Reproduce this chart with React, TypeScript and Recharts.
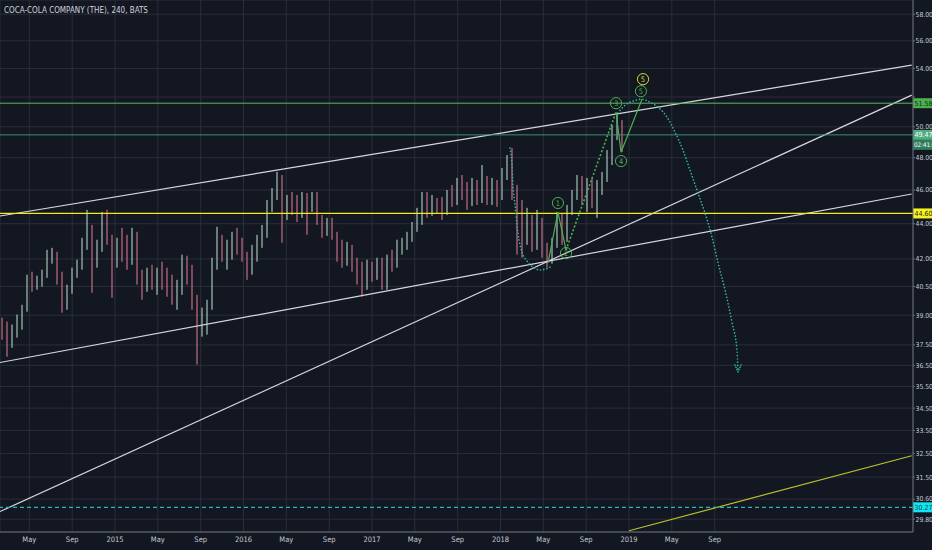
import React from "react";
import {
  ComposedChart,
  Bar,
  Line,
  XAxis,
  YAxis,
  CartesianGrid,
  ReferenceLine,
  ReferenceDot,
} from "recharts";

const BG = "#131722";
const GRID = "#2a2e39";
const AXIS = "#6b6e78";
const TEXT = "#c5c8cf";
const UP = "#bfe3d2";
const DOWN = "#e57f95";
const TEAL_DOT = "#35b5a5";
const WAVE = "#4caf50";
const WHITE_LINE = "#d6d8de";
const FONT = "'Liberation Sans Narrow', 'DejaVu Sans Condensed', sans-serif";

// time axis (decimal years), 240-min bars binned to ~2 weeks
const T0 = 2014.1206;
const STEP = 0.03891;
const X_DOMAIN = [2014.105, 2021.21];
const X_TICKS = [2014.333, 2014.667, 2015, 2015.333, 2015.667, 2016, 2016.333, 2016.667, 2017, 2017.333, 2017.667, 2018, 2018.333, 2018.667, 2019, 2019.333, 2019.667];
const X_LABELS = ["May", "Sep", "2015", "May", "Sep", "2016", "May", "Sep", "2017", "May", "Sep", "2018", "May", "Sep", "2019", "May", "Sep"];

const Y_DOMAIN = [29.3, 59.1];
const Y_TICKS = [58, 56, 54, 52, 50, 48, 46, 44, 42, 40.5, 39, 37.5, 36.5, 35.5, 34.5, 33.5, 32.5, 31.5, 30.6, 29.8];
const Y_HIDDEN = [52]; // covered by the 51.58 price tag

const FIRST_OPEN = 38.67;
const CLOSE = [
  38.01, 37.51, 38.36, 38.77, 39.28, 40.76, 40.6, 40.86, 41.14, 42.07,
  42.24, 40.97, 39.54, 40.33, 41.3, 41.68, 42.79, 43.76, 41.85, 42.62,
  44.22, 43.19, 41.85, 42.79, 42.51, 41.96, 43.08, 40.97, 40.6, 41.3,
  40.76, 41.14, 40.86, 40.6, 40.22, 40.33, 41.68, 41.3, 39.8, 38.52,
  39.03, 39.54, 41.68, 43.08, 42.24, 42.62, 43.08, 42.51, 42.07, 41.52,
  42.51, 43.08, 43.53, 45.1, 45.7, 46.61, 44.81, 45.4, 44.93, 44.69,
  45.52, 45.1, 45.64, 44.22, 43.53, 44.1, 43.36, 42.24, 41.85, 42.62,
  41.68, 41.14, 40.6, 41.52, 41.14, 41.68, 40.86, 41.96, 41.85, 42.62,
  42.79, 43.3, 43.76, 44.69, 45.4, 44.81, 45.28, 44.93, 44.69, 45.7,
  45.4, 46.12, 45.7, 45.28, 46.31, 45.52, 46.61, 45.52, 46.12, 45.7,
  46.92, 47.86, 46.0, 43.93, 43.36, 44.22, 42.79, 44.1, 42.51, 42.07,
  42.96, 44.34, 43.19, 44.81, 45.7, 46.49, 45.7, 46.12, 45.4, 46.31,
  46.74, 47.98, 49.78, 50.11, 49.47,
];
const HIGH = [
  38.87, 38.67, 38.52, 39.03, 39.54, 41.14, 41.3, 41.08, 41.41, 42.51,
  42.62, 42.4, 41.3, 40.6, 41.52, 41.96, 43.19, 44.81, 43.93, 43.08,
  44.69, 44.81, 43.36, 43.19, 43.76, 43.36, 43.76, 43.53, 41.41, 41.52,
  41.68, 41.52, 41.85, 41.52, 41.14, 40.86, 42.24, 42.18, 41.68, 40.06,
  39.39, 39.8, 42.07, 43.82, 43.36, 43.08, 43.53, 43.76, 43.19, 42.4,
  42.79, 43.36, 43.93, 45.4, 46.12, 47.11, 46.92, 45.7, 45.88, 45.7,
  45.88, 45.82, 45.88, 45.88, 44.51, 44.34, 44.34, 43.53, 43.08, 42.96,
  42.79, 42.07, 41.85, 41.96, 41.85, 42.07, 42.07, 42.24, 42.51, 43.08,
  43.19, 43.53, 44.1, 44.93, 45.88, 45.88, 45.7, 45.52, 45.58, 46.0,
  46.31, 46.74, 46.92, 46.49, 46.74, 46.61, 47.54, 46.86, 46.74, 46.61,
  47.36, 48.17, 48.62, 46.31, 45.4, 44.93, 44.51, 44.81, 44.34, 42.91,
  43.19, 44.69, 44.63, 45.1, 46.0, 46.92, 46.86, 46.74, 46.74, 46.61,
  47.11, 48.49, 50.11, 50.9, 50.44,
];
const LOW = [
  37.76, 36.92, 37.36, 37.86, 38.26, 39.18, 40.22, 40.33, 40.49, 40.97,
  41.74, 40.6, 39.13, 39.28, 40.12, 40.97, 41.41, 42.51, 40.17, 41.52,
  42.4, 42.79, 39.9, 41.52, 41.85, 41.41, 41.68, 40.6, 39.8, 40.22,
  40.33, 40.06, 40.33, 39.96, 39.54, 39.28, 40.06, 40.6, 39.28, 36.54,
  37.91, 38.01, 39.28, 41.41, 41.85, 41.41, 41.96, 42.24, 41.85, 40.86,
  41.14, 41.85, 42.62, 43.19, 44.69, 45.4, 42.91, 44.22, 44.51, 44.1,
  44.34, 43.36, 44.69, 43.93, 43.19, 43.3, 43.08, 41.85, 41.52, 41.63,
  41.3, 40.6, 39.96, 40.33, 40.76, 40.86, 40.33, 40.33, 41.3, 41.52,
  42.24, 42.51, 42.96, 43.53, 43.93, 44.34, 44.46, 44.57, 44.22, 44.51,
  44.99, 45.1, 45.4, 44.81, 45.04, 45.1, 45.22, 45.1, 45.1, 44.99,
  45.4, 46.61, 45.4, 42.24, 42.07, 42.79, 42.4, 42.51, 42.07, 41.52,
  41.74, 42.62, 42.79, 42.96, 44.51, 45.4, 45.1, 44.69, 44.93, 44.34,
  45.7, 46.49, 47.54, 49.13, 48.36,
];

// drawn trend lines [t, price]
const UPPER_CHANNEL = [[2014.105, 44.45], [2021.2, 54.23]];
const LOWER_CHANNEL = [[2014.105, 36.64], [2021.2, 45.76]];
const LONG_TREND = [[2014.105, 30.1], [2021.2, 52.13]];
const YELLOW_TREND = [[2019.0, 29.35], [2021.2, 32.4]];

// horizontal levels
const LEVEL_RESIST = 51.58;
const LEVEL_LAST = 49.47;
const LEVEL_YELLOW = 44.6;
const LEVEL_LOW = 30.27;
const COUNTDOWN = "02:41:5";

// dotted projection curves
const ARC_A_T = [2018.074, 2018.089, 2018.097, 2018.113, 2018.128, 2018.144, 2018.167, 2018.206, 2018.253, 2018.307, 2018.354, 2018.401];
const ARC_A_P = [48.62, 47.54, 46.3, 45.1, 43.92, 43.07, 42.39, 41.89, 41.56, 41.39, 41.45, 41.61];
const ARC_B_T = [2018.914, 2018.969, 2019.031, 2019.101, 2019.163, 2019.226, 2019.296, 2019.358, 2019.42, 2019.475, 2019.537, 2019.591, 2019.646, 2019.693, 2019.747, 2019.802, 2019.84, 2019.848];
const ARC_B_P = [50.91, 51.45, 51.72, 51.85, 51.65, 51.31, 50.64, 49.65, 48.48, 47.22, 45.81, 44.63, 43.23, 41.78, 40.32, 38.61, 37.25, 36.19];
const ARROW_T = [2019.825, 2019.848, 2019.872];
const ARROW_P = [36.52, 36.19, 36.52];

// elliott wave zigzag
const WAVE_A_T = [2018.37, 2018.447, 2018.51];
const WAVE_A_P = [41.78, 44.68, 42.5];
const WAVE_B_T = [2018.51, 2018.899];
const WAVE_B_P = [42.5, 50.98];
const WAVE_C_T = [2018.899, 2018.938, 2019.101];
const WAVE_C_P = [50.98, 48.35, 51.85];

const LABEL_TEXT = ["1", "2", "3", "4", "5", "5"];
const LABEL_T = [2018.447, 2018.51, 2018.899, 2018.938, 2019.093, 2019.109];
const LABEL_P = [45.22, 42.33, 51.58, 47.79, 52.4, 53.24];

const candles = CLOSE.map((c, i) => ({
  t: T0 + i * STEP,
  open: i === 0 ? FIRST_OPEN : CLOSE[i - 1],
  close: c,
  high: HIGH[i],
  low: LOW[i],
  range: [LOW[i], HIGH[i]],
}));

const pts = (ts: number[], ps: number[]) => ts.map((t, i) => ({ t, p: ps[i] }));
const seg = (s: number[][]) => [{ x: s[0][0], y: s[0][1] }, { x: s[1][0], y: s[1][1] }];

const Candle = (props: any) => {
  const { x, y, width, height, payload } = props;
  if (!payload || height == null || isNaN(y)) return null;
  const top = Math.min(y, y + height);
  const h = Math.abs(height);
  const lh = Math.log(payload.high);
  const ll = Math.log(payload.low);
  const py = (v: number) => top + (h * (lh - Math.log(v))) / (lh - ll || 1);
  const color = payload.close >= payload.open ? UP : DOWN;
  const cx = x + width / 2;
  const b0 = py(Math.max(payload.open, payload.close));
  const b1 = py(Math.min(payload.open, payload.close));
  return (
    <g>
      <line x1={cx} x2={cx} y1={top} y2={top + h} stroke={color} strokeWidth={1} />
      <rect x={x} y={b0} width={width} height={Math.max(1, b1 - b0)} fill={color} />
    </g>
  );
};

const PriceTag = ({ viewBox, text, bg, fg, sub, subBg }: any) => {
  if (!viewBox) return null;
  const x = viewBox.x + viewBox.width;
  const y = viewBox.y;
  return (
    <g>
      <rect x={x} y={y - 5} width={19} height={10} fill={bg} />
      <text x={x + 1.5} y={y + 2.5} fill={fg} fontSize={7} fontFamily={FONT}>
        {text}
      </text>
      {sub ? (
        <g>
          <rect x={x} y={y + 5} width={19} height={10} fill={subBg} />
          <text x={x + 1} y={y + 12.5} fill={fg} fontSize={6.2} fontFamily={FONT}>
            {sub}
          </text>
        </g>
      ) : null}
    </g>
  );
};

const WaveMark = ({ cx, cy, text, color }: any) => (
  <g>
    <circle cx={cx} cy={cy} r={5.6} fill="none" stroke={color} strokeWidth={1} />
    <text x={cx} y={cy + 2.6} textAnchor="middle" fill={color} fontSize={7.5} fontFamily={FONT}>
      {text}
    </text>
  </g>
);

const dotted = {
  stroke: TEAL_DOT,
  strokeWidth: 1.6,
  strokeLinecap: "round" as const,
  dot: false,
  activeDot: false,
  isAnimationActive: false,
};

export default function App() {
  return (
    <div style={{ position: "absolute", left: 0, top: 0, width: 932, height: 550, background: BG }}>
      <ComposedChart
        width={932}
        height={550}
        data={candles}
        margin={{ top: 0, right: 0, bottom: 0, left: 0 }}
      >
        <CartesianGrid stroke={GRID} strokeWidth={1} />
        <XAxis
          dataKey="t"
          type="number"
          domain={X_DOMAIN}
          allowDataOverflow
          ticks={X_TICKS}
          interval={0}
          tickFormatter={(_v: number, i: number) => X_LABELS[i]}
          height={18}
          tickSize={0}
          tickMargin={5}
          tick={{ fill: TEXT, fontSize: 7.5, fontFamily: FONT }}
          axisLine={{ stroke: AXIS }}
        />
        <YAxis
          orientation="right"
          scale="log"
          domain={Y_DOMAIN}
          allowDataOverflow
          ticks={Y_TICKS}
          interval={0}
          tickFormatter={(v: number) => (Y_HIDDEN.includes(v) ? "" : v.toFixed(2))}
          width={19}
          tickSize={2}
          tickMargin={0.5}
          tick={{ fill: TEXT, fontSize: 6.8, fontFamily: FONT, textAnchor: "start" }}
          tickLine={{ stroke: AXIS }}
          axisLine={{ stroke: AXIS }}
        />

        <Bar dataKey="range" barSize={3.5} shape={<Candle />} activeBar={false} isAnimationActive={false} />

        <ReferenceLine segment={seg(UPPER_CHANNEL)} stroke={WHITE_LINE} strokeWidth={1.2} ifOverflow="hidden" />
        <ReferenceLine segment={seg(LOWER_CHANNEL)} stroke={WHITE_LINE} strokeWidth={1.2} ifOverflow="hidden" />
        <ReferenceLine segment={seg(LONG_TREND)} stroke={WHITE_LINE} strokeWidth={1.2} ifOverflow="hidden" />
        <ReferenceLine segment={seg(YELLOW_TREND)} stroke="#bcbf2e" strokeWidth={1.2} ifOverflow="hidden" />

        <ReferenceLine
          y={LEVEL_RESIST}
          stroke="#5cb860"
          strokeWidth={1}
          label={{ content: (p: any) => <PriceTag viewBox={p.viewBox} text={LEVEL_RESIST.toFixed(2)} bg="#4caf50" fg="#0f2a14" /> }}
        />
        <ReferenceLine
          y={LEVEL_LAST}
          stroke="#3d8f70"
          strokeWidth={1}
          label={{
            content: (p: any) => (
              <PriceTag viewBox={p.viewBox} text={LEVEL_LAST.toFixed(2)} bg="#4fae82" fg="#ffffff" sub={COUNTDOWN} subBg="#2f7d5c" />
            ),
          }}
        />
        <ReferenceLine
          y={LEVEL_YELLOW}
          stroke="#f0ec1a"
          strokeWidth={1.2}
          label={{ content: (p: any) => <PriceTag viewBox={p.viewBox} text={LEVEL_YELLOW.toFixed(2)} bg="#f5f21f" fg="#222" /> }}
        />
        <ReferenceLine
          y={LEVEL_LOW}
          stroke="#26b6c0"
          strokeWidth={1.2}
          strokeDasharray="4 3"
          label={{ content: (p: any) => <PriceTag viewBox={p.viewBox} text={LEVEL_LOW.toFixed(2)} bg="#12e6f2" fg="#0d4a52" /> }}
        />

        <Line data={pts(ARC_A_T, ARC_A_P)} dataKey="p" type="monotone" strokeDasharray="0.1 3.2" {...dotted} />
        <Line data={pts(ARC_B_T, ARC_B_P)} dataKey="p" type="monotone" strokeDasharray="0.1 3.2" {...dotted} />
        <Line data={pts(ARROW_T, ARROW_P)} dataKey="p" type="linear" strokeDasharray="0.1 2.4" {...dotted} />

        <Line data={pts(WAVE_A_T, WAVE_A_P)} dataKey="p" type="linear" stroke={WAVE} strokeWidth={1.2} dot={false} activeDot={false} isAnimationActive={false} />
        <Line data={pts(WAVE_B_T, WAVE_B_P)} dataKey="p" type="linear" stroke={WAVE} strokeWidth={1.6} strokeDasharray="2 2" dot={false} activeDot={false} isAnimationActive={false} />
        <Line data={pts(WAVE_C_T, WAVE_C_P)} dataKey="p" type="linear" stroke={WAVE} strokeWidth={1.2} dot={false} activeDot={false} isAnimationActive={false} />

        {LABEL_TEXT.map((txt, i) => (
          <ReferenceDot
            key={i}
            x={LABEL_T[i]}
            y={LABEL_P[i]}
            r={5}
            ifOverflow="visible"
            shape={(p: any) => <WaveMark cx={p.cx} cy={p.cy} text={txt} color={i === 5 ? "#d8d63a" : WAVE} />}
          />
        ))}
      </ComposedChart>
      <div
        style={{
          position: "absolute",
          left: 4,
          top: 6,
          fontFamily: FONT,
          fontSize: 8,
          color: "#d1d4dc",
          whiteSpace: "nowrap",
        }}
      >
        COCA-COLA COMPANY (THE), 240, BATS
      </div>
    </div>
  );
}
